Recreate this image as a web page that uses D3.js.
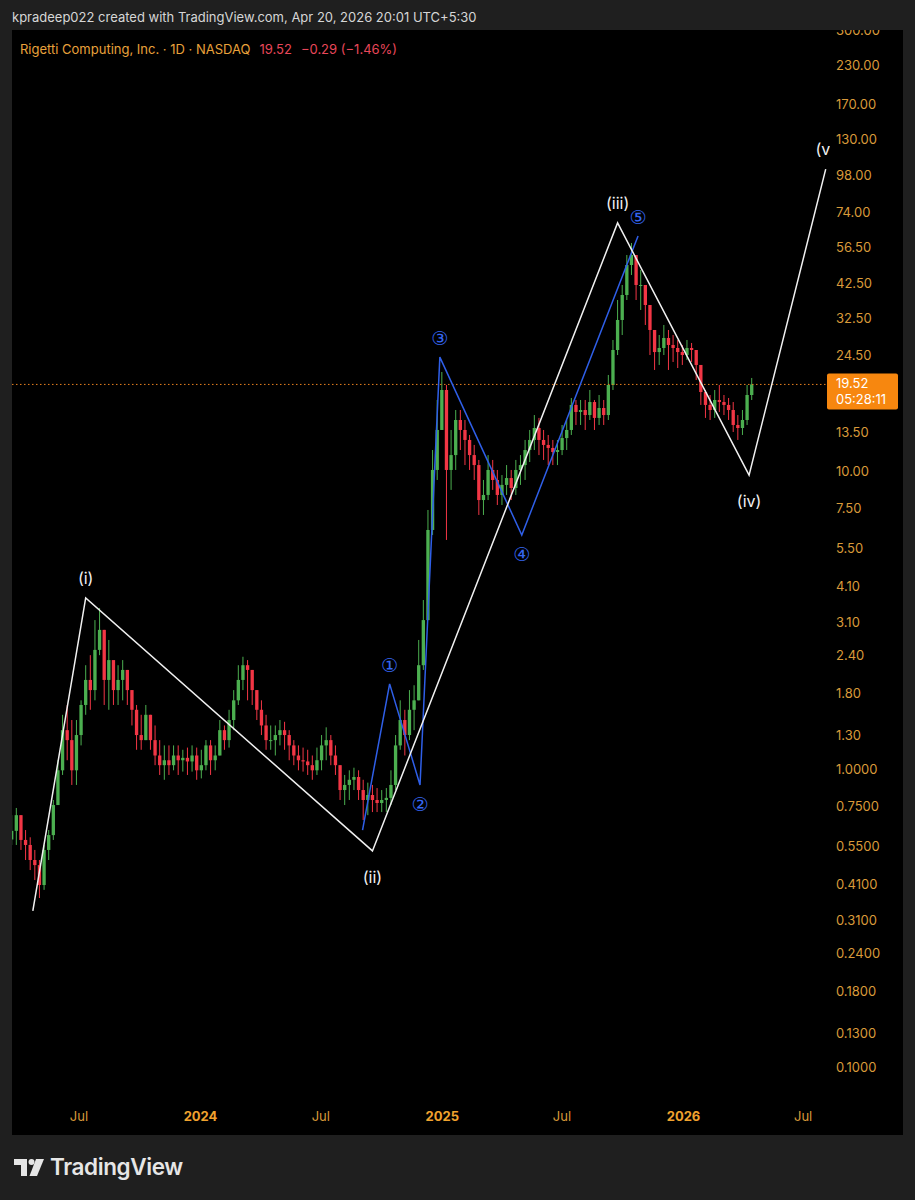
<!DOCTYPE html>
<html><head><meta charset="utf-8">
<script src="https://cdn.jsdelivr.net/npm/d3@7/dist/d3.min.js"></script>
<style>
html,body{margin:0;padding:0;background:#1f1f1f;}
svg{display:block;font-family:Inter,"Noto Sans",sans-serif;}
</style></head><body>
<svg id="chart" width="915" height="1200"></svg>
<script>
// ---------------- DATA ----------------
const headerText = "kpradeep022 created with TradingView.com, Apr 20, 2026 20:01 UTC+5:30";
const symbolTitle = "Rigetti Computing, Inc. · 1D · NASDAQ";
const lastPrice = 19.52;
const changeText = "−0.29 (−1.46%)";
const countdownText = "05:28:11";

// weekly bars, first week starting Mon 20 Mar 2023
const firstWeek = "2023-03-20";
const firstOpen = 0.58;
const weekHigh = [0.70,0.74,0.70,0.624,0.59,0.535,0.495,0.556,0.624,0.787,
1.07,1.52,1.64,1.46,1.46,1.70,2.23,2.41,3.16,3.47,
2.93,2.71,2.23,2.23,2.32,2.15,1.84,1.64,1.52,1.64,
1.52,1.40,1.25,1.20,1.20,1.20,1.20,1.16,1.18,1.20,
1.18,1.16,1.25,1.25,1.20,1.46,1.40,1.58,1.84,2.23,
2.38,2.32,2.15,1.84,1.70,1.52,1.40,1.40,1.46,1.44,
1.35,1.25,1.20,1.18,1.16,1.11,1.18,1.30,1.38,1.30,
1.20,1.03,0.955,0.99,1.01,0.99,0.92,0.90,0.884,0.863,
0.85,0.863,0.99,1.30,1.70,1.58,1.84,1.91,2.71,3.69,
7.40,11.76,17.31,21.49,19.44,13.73,16.02,16.02,14.83,13.21,
12.23,10.89,9.33,11.31,10.89,10.08,9.69,10.47,10.08,10.89,
11.31,12.71,13.73,15.41,15.07,13.73,13.21,12.71,12.71,14.27,
14.83,17.58,17.31,17.31,17.31,18.70,17.31,17.99,17.31,21.0,
27.52,37.48,42.09,53.07,58.23,51.06,47.26,42.09,34.70,28.60,
28.60,30.90,29.73,28.60,27.52,26.48,27.52,26.89,25.47,21.0,
18.70,17.99,18.70,19.44,17.99,17.58,17.04,15.41,16.02,19.44,
20.52];
const weekLow = [0.556,0.556,0.535,0.495,0.458,0.424,0.369,0.393,0.495,0.578,
0.757,0.955,1.07,0.884,0.884,1.20,1.52,1.58,1.70,2.41,
1.64,1.58,1.64,1.64,1.70,1.64,1.40,1.16,1.16,1.25,
1.16,1.03,0.955,0.92,0.955,0.99,0.955,0.98,0.955,0.98,
0.92,0.93,0.99,0.955,0.99,1.11,1.16,1.18,1.35,1.64,
1.84,1.70,1.64,1.46,1.30,1.16,1.16,1.11,1.20,1.16,
1.07,1.03,0.99,0.98,0.955,0.92,0.955,0.99,1.07,1.03,
0.955,0.787,0.757,0.787,0.85,0.787,0.674,0.70,0.717,0.717,
0.717,0.717,0.757,0.85,1.16,1.11,1.25,1.35,1.70,2.15,
3.16,6.10,9.33,13.73,5.87,8.64,10.08,11.76,10.47,10.08,
9.33,7.12,7.12,7.99,8.64,7.69,7.69,8.31,7.99,8.31,
8.98,9.33,10.72,11.76,11.31,10.89,10.47,10.47,10.47,11.31,
11.76,13.21,14.27,14.27,13.73,14.83,13.73,14.27,14.27,14.83,
18.70,24.50,28.60,37.48,45.47,37.48,34.70,30.90,24.50,21.83,
22.69,24.50,21.83,23.22,22.16,22.69,23.58,23.22,20.20,16.66,
15.07,14.83,15.07,15.78,15.41,14.83,13.52,12.71,13.21,14.27,
17.31];
const weekClose = [0.62,0.70,0.578,0.556,0.495,0.476,0.408,0.535,0.60,0.757,
0.99,1.35,1.25,0.99,1.30,1.64,1.99,1.84,2.51,2.93,
1.99,2.32,1.84,1.99,2.15,1.84,1.58,1.30,1.25,1.52,
1.25,1.11,1.03,1.07,1.03,1.11,1.07,1.09,1.06,1.11,
0.99,1.03,1.20,1.07,1.11,1.35,1.25,1.46,1.70,1.99,
2.23,2.15,1.84,1.58,1.40,1.25,1.25,1.30,1.35,1.30,
1.20,1.11,1.07,1.06,1.03,0.99,1.07,1.20,1.25,1.11,
1.03,0.85,0.884,0.92,0.94,0.85,0.787,0.818,0.787,0.769,
0.787,0.80,0.884,1.20,1.46,1.30,1.58,1.70,2.23,3.16,
6.34,10.08,13.73,18.70,10.08,11.31,14.83,13.73,12.71,11.31,
10.47,7.99,8.31,10.08,9.33,8.31,8.98,9.47,8.77,10.08,
10.47,11.76,12.71,13.94,12.71,12.23,11.95,11.58,11.76,12.90,
13.73,16.66,15.78,16.02,15.41,17.04,15.07,16.27,15.41,19.44,
25.47,32.12,38.96,49.12,53.07,42.09,42.09,36.06,29.73,25.07,
25.87,27.95,26.48,25.87,25.07,24.50,25.87,25.47,22.69,18.41,
16.66,16.02,17.31,17.04,16.66,16.02,14.27,13.94,14.83,17.99,
19.52];

// Elliott wave (white) and sub-wave (blue) pivots
const mainWaveDates  = ["2023-04-23","2023-07-12","2024-09-18","2025-09-24","2026-04-11","2026-08-05"];
const mainWaveValues = [0.334, 3.75, 0.531, 68.0, 9.69, 103.0];
const mainWaveLabels = ["", "(i)", "(ii)", "(iii)", "(iv)", "(v)"];
const subWaveDates  = ["2024-09-03","2024-10-14","2024-11-29","2024-12-29","2025-05-02","2025-10-25"];
const subWaveValues = [0.624, 1.93, 0.884, 24.1, 6.10, 61.5];
const subWaveLabels = ["", "①", "②", "③", "④", "⑤"];

// axis ticks
const priceTicks = [300,230,170,130,98,74,56.5,42.5,32.5,24.5,13.5,10,7.5,5.5,4.1,3.1,2.4,1.8,1.3,1,0.75,0.55,0.41,0.31,0.24,0.18,0.13,0.1];
const priceTickLabels = ["300.00","230.00","170.00","130.00","98.00","74.00","56.50","42.50","32.50","24.50","13.50","10.00","7.50","5.50","4.10","3.10","2.40","1.80","1.30","1.0000","0.7500","0.5500","0.4100","0.3100","0.2400","0.1800","0.1300","0.1000"];
const timeTicks = ["2023-07-01","2024-01-01","2024-07-01","2025-01-01","2025-07-01","2026-01-01","2026-07-01"];
const timeTickLabels = ["Jul","2024","Jul","2025","Jul","2026","Jul"];

// ---------------- DRAW ----------------
const svg = d3.select("#chart");
const parse = d3.utcParse("%Y-%m-%d");
const P = {left:12, right:830, top:30, bottom:1110, panelRight:903, panelBottom:1135};

const x = d3.scaleUtc().domain([parse("2024-01-01"), parse("2026-01-01")]).range([200, 683]);
const y = d3.scaleLog().domain([0.1, 100]).range([1067, 173]);

// background panel
svg.append("rect").attr("width",915).attr("height",1200).attr("fill","#1f1f1f");
svg.append("rect").attr("x",P.left).attr("y",P.top).attr("width",P.panelRight-P.left).attr("height",P.panelBottom-P.top).attr("fill","#000");

// header
svg.append("text").attr("x",12).attr("y",22).attr("fill","#d6d6d6").attr("font-size",13).text(headerText);
const title = svg.append("text").attr("x",20).attr("y",54).attr("font-size",13);
title.append("tspan").attr("fill","#e9a23b").text(symbolTitle);
title.append("tspan").attr("fill","#e8475a").attr("dx",9).text(lastPrice.toFixed(2));
title.append("tspan").attr("fill","#e8475a").attr("dx",9).text(changeText);

// clip
svg.append("clipPath").attr("id","plotclip").append("rect")
  .attr("x",P.left).attr("y",P.top).attr("width",P.right-P.left).attr("height",P.bottom-P.top);
const plot = svg.append("g").attr("clip-path","url(#plotclip)");

// candles
const start = parse(firstWeek);
const bars = weekClose.map((c,i)=>({
  date: d3.utcDay.offset(d3.utcWeek.offset(start, i), 2),
  open: i===0 ? firstOpen : weekClose[i-1],
  high: weekHigh[i], low: weekLow[i], close: c
}));
const bw = (x(d3.utcDay.offset(start,7)) - x(start)) * 0.72;
const cg = plot.append("g");
const col = d => d.close >= d.open ? "#4caf50" : "#f23645";
cg.selectAll("line.wick").data(bars).join("line").attr("class","wick")
  .attr("x1",d=>x(d.date)).attr("x2",d=>x(d.date))
  .attr("y1",d=>y(d.high)).attr("y2",d=>y(d.low))
  .attr("stroke",col).attr("stroke-width",1);
cg.selectAll("rect.body").data(bars).join("rect").attr("class","body")
  .attr("x",d=>x(d.date)-bw/2).attr("width",bw)
  .attr("y",d=>y(Math.max(d.open,d.close)))
  .attr("height",d=>Math.max(1, Math.abs(y(d.open)-y(d.close))))
  .attr("fill",col);

// last price dotted line
plot.append("line").attr("x1",P.left).attr("x2",P.right).attr("y1",y(lastPrice)).attr("y2",y(lastPrice))
  .attr("stroke","#e8801f").attr("stroke-width",1).attr("stroke-dasharray","1.5,2.5");

// waves
const line = d3.line().x(d=>x(d.d)).y(d=>y(d.v));
const mainPts = mainWaveDates.map((d,i)=>({d:parse(d), v:mainWaveValues[i], l:mainWaveLabels[i]}));
const subPts = subWaveDates.map((d,i)=>({d:parse(d), v:subWaveValues[i], l:subWaveLabels[i]}));
plot.append("path").datum(subPts).attr("d",line).attr("fill","none").attr("stroke","#2f5fe8").attr("stroke-width",1.5);
plot.append("path").datum(mainPts).attr("d",line).attr("fill","none").attr("stroke","#f0f0f0").attr("stroke-width",1.5);

const isPeak = (arr,i) => i===arr.length-1 ? true : (i>0 && arr[i].v > arr[i-1].v);
plot.selectAll("text.main").data(mainPts.filter(p=>p.l)).join("text").attr("class","main")
  .attr("x",d=>x(d.d)).attr("y",(d)=>{const i=mainPts.indexOf(d); return y(d.v) + (isPeak(mainPts,i)? -14 : 32);})
  .attr("text-anchor","middle").attr("fill","#f2f2f2").attr("font-size",16).text(d=>d.l);
plot.selectAll("text.sub").data(subPts.filter(p=>p.l)).join("text").attr("class","sub")
  .attr("x",d=>x(d.d)).attr("y",(d)=>{const i=subPts.indexOf(d); return y(d.v) + (isPeak(subPts,i)? -12 : 26);})
  .attr("text-anchor","middle").attr("fill","#3566f0").attr("font-size",19).attr("font-family","DejaVu Sans").text(d=>d.l);

// price axis
const yAxis = d3.axisRight(y).tickValues(priceTicks).tickFormat((d,i)=>priceTickLabels[i]).tickSize(0).tickPadding(6);
svg.append("clipPath").attr("id","axisclip").append("rect")
  .attr("x",P.right).attr("y",P.top).attr("width",P.panelRight-P.right).attr("height",P.panelBottom-P.top);
const yWrap = svg.append("g").attr("clip-path","url(#axisclip)");
const ya = yWrap.append("g").attr("transform",`translate(${P.right},0)`).call(yAxis);
ya.select(".domain").remove();
ya.selectAll("text").attr("fill","#d99a3a").attr("font-size",13).attr("font-family","Inter,'Noto Sans',sans-serif");

// price label box
const pb = svg.append("g").attr("transform",`translate(827,${y(lastPrice)-11})`);
pb.append("rect").attr("width",71).attr("height",36).attr("rx",2).attr("fill","#f7870f");
pb.append("text").attr("x",9).attr("y",15).attr("fill","#fff").attr("font-size",13).text(lastPrice.toFixed(2));
pb.append("text").attr("x",9).attr("y",31).attr("fill","#fff").attr("font-size",13).text(countdownText);

// time axis
const xAxis = d3.axisBottom(x).tickValues(timeTicks.map(parse)).tickFormat((d,i)=>timeTickLabels[i]).tickSize(0).tickPadding(0);
const xa = svg.append("g").attr("transform","translate(0,1112)").call(xAxis);
xa.select(".domain").remove();
xa.selectAll("text").attr("font-size",13).attr("font-family","Inter,'Noto Sans',sans-serif")
  .attr("fill",(d,i)=>timeTickLabels[i]==="Jul"?"#d99a3a":"#f0a22e")
  .attr("font-weight",(d,i)=>timeTickLabels[i]==="Jul"?400:700);

// logo
const logo = svg.append("g").attr("fill","#e6e6e6");
logo.append("path").attr("d","M14,1159 H27 V1176 H21 V1165 H14 Z");
logo.append("circle").attr("cx",31.5).attr("cy",1162).attr("r",3);
logo.append("path").attr("d","M36,1159 H44 L37,1176 H29.5 Z");
logo.append("text").attr("x",50).attr("y",1175).attr("font-size",22.5).attr("font-weight",600).attr("letter-spacing",-0.4).text("TradingView");
</script>
</body></html>
